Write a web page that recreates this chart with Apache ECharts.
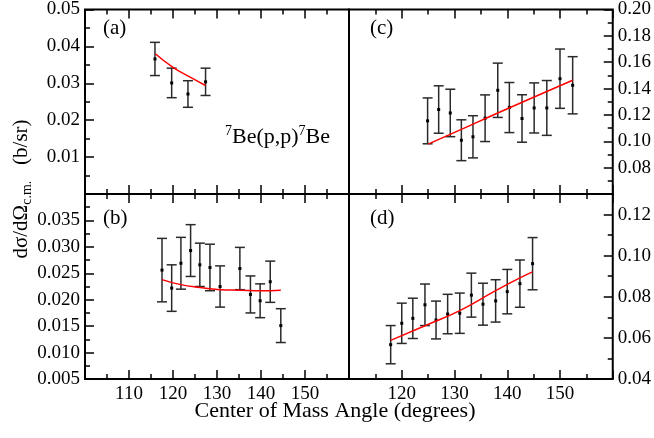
<!DOCTYPE html>
<html><head><meta charset="utf-8">
<script src="https://cdn.jsdelivr.net/npm/echarts@6/dist/echarts.min.js"></script>
<style>html,body{margin:0;padding:0;background:#fff}#c{width:654px;height:438px}</style>
</head><body><div id="c"></div>
<script>
// Panel (a)
const aX = [115.9, 119.7, 123.4, 127.4];
const aY = [0.0366, 0.0301, 0.0271, 0.0304];
const aErr = [0.0045, 0.0040, 0.0036, 0.0037];
const aFitX = [116, 120, 124, 127.4];
const aFitY = [0.0380, 0.0343, 0.0316, 0.0294];
// Panel (b)
const bX = [117.5, 119.7, 121.8, 124.0, 126.1, 128.4, 130.7, 135.2, 137.6, 139.8, 142.1, 144.5];
const bY = [0.0256, 0.0222, 0.0269, 0.0293, 0.0266, 0.0261, 0.0225, 0.0259, 0.0210, 0.0198, 0.0234, 0.0151];
const bErr = [0.0060, 0.0044, 0.0049, 0.0049, 0.0041, 0.0044, 0.0039, 0.0040, 0.0035, 0.0032, 0.0039, 0.0032];
const bFitX = [117.5, 121.5, 126.1, 130.7, 135.2, 139.8, 144.5];
const bFitY = [0.0238, 0.0229, 0.0223, 0.0219, 0.0218, 0.0217, 0.0218];
// Panel (c)
const cX = [124.9, 127.0, 129.2, 131.3, 133.5, 135.8, 138.2, 140.4, 142.8, 145.1, 147.5, 150.0, 152.4];
const cY = [0.1155, 0.1241, 0.1215, 0.1008, 0.1034, 0.1175, 0.1387, 0.1256, 0.1173, 0.1253, 0.1253, 0.1475, 0.1425];
const cErr = [0.0174, 0.0180, 0.0180, 0.0155, 0.0160, 0.0177, 0.0206, 0.0190, 0.0180, 0.0190, 0.0208, 0.0225, 0.0217];
const cFitX = [125, 131.3, 138.2, 145.1, 152.4];
const cFitY = [0.0978, 0.1090, 0.1215, 0.1336, 0.1463];
// Panel (d)
const dX = [117.9, 120.0, 122.1, 124.4, 126.5, 128.7, 131.0, 133.2, 135.4, 137.8, 140.0, 142.4, 144.8];
const dY = [0.0567, 0.0671, 0.0695, 0.0761, 0.0687, 0.0716, 0.0720, 0.0808, 0.0764, 0.0780, 0.0825, 0.0864, 0.0961];
const dErr = [0.0093, 0.0098, 0.0098, 0.0101, 0.0092, 0.0096, 0.0098, 0.0107, 0.0102, 0.0103, 0.0108, 0.0115, 0.0127];
const dFitX = [117.9, 124.4, 131.0, 137.8, 142.4, 144.8];
const dFitY = [0.0588, 0.0659, 0.0733, 0.0830, 0.0892, 0.0921];

const panelLabels = ['(a)', '(b)', '(c)', '(d)'];
const xTitle = 'Center of Mass Angle (degrees)';

const FONT = '"Liberation Serif", "Times New Roman", Times, "DejaVu Serif", serif';
const chart = echarts.init(document.getElementById('c'), null, {renderer: 'canvas'});

const grids = [
  {left: 85, top: 9, width: 264, height: 185},
  {left: 85, top: 194, width: 264, height: 185},
  {left: 349, top: 9, width: 264, height: 185},
  {left: 349, top: 194, width: 264, height: 185}
];
const xr = [[100,160],[100,160],[110,160],[110,160]];
const yr = [
  {min: 0, max: 0.05, interval: 0.01, dec: 2, hide: [0]},
  {min: 0.005, max: 0.04, interval: 0.005, dec: 3, hide: [0.04]},
  {min: 0.06, max: 0.20, interval: 0.02, dec: 2, hide: [0.06]},
  {min: 0.04, max: 0.13, interval: 0.02, dec: 2, hide: [0.13]}
];

const tickStyle = {show: true, inside: true, length: 9, lineStyle: {color: '#000', width: 1.5}};
const minorStyle = {show: true, splitNumber: 2, length: 5, lineStyle: {color: '#000', width: 1.5}};

const xAxes = [], yAxes = [];
for (let i = 0; i < 4; i++) {
  const showLab = (i === 1 || i === 3);
  xAxes.push({
    gridIndex: i, type: 'value', position: 'bottom', min: xr[i][0], max: xr[i][1], interval: 10,
    axisLine: {show: false}, splitLine: {show: false},
    axisTick: tickStyle, minorTick: minorStyle,
    axisLabel: {show: showLab, margin: 6, color: '#000', fontFamily: FONT, fontSize: 19,
      formatter: v => (v === xr[i][0] || v === xr[i][1]) ? '' : String(v)}
  });
  xAxes.push({
    gridIndex: i, type: 'value', position: 'top', min: xr[i][0], max: xr[i][1], interval: 10,
    axisLine: {show: false}, splitLine: {show: false},
    axisTick: tickStyle, minorTick: minorStyle, axisLabel: {show: false}
  });
  const r = yr[i];
  yAxes.push({
    gridIndex: i, type: 'value', position: i < 2 ? 'left' : 'right',
    min: r.min, max: r.max, interval: r.interval,
    axisLine: {show: false}, splitLine: {show: false},
    axisTick: tickStyle, minorTick: minorStyle,
    axisLabel: {margin: 5, color: '#000', fontFamily: FONT, fontSize: 19,
      formatter: v => r.hide.some(h => Math.abs(h - v) < 1e-9) ? '' : v.toFixed(r.dec)}
  });
}

function errItem(params, api) {
  const x = api.value(0), y = api.value(1), e = api.value(2);
  const hi = api.coord([x, y + e]), lo = api.coord([x, y - e]), c = api.coord([x, y]);
  const hw = 5;
  const st = {stroke: '#2a2a2a', lineWidth: 1.5};
  return {type: 'group', children: [
    {type: 'line', shape: {x1: hi[0], y1: hi[1], x2: lo[0], y2: lo[1]}, style: st},
    {type: 'line', shape: {x1: hi[0] - hw, y1: hi[1], x2: hi[0] + hw, y2: hi[1]}, style: st},
    {type: 'line', shape: {x1: lo[0] - hw, y1: lo[1], x2: lo[0] + hw, y2: lo[1]}, style: st},
    {type: 'rect', shape: {x: c[0] - 1.5, y: c[1] - 1.5, width: 3, height: 3}, style: {fill: '#000'}}
  ]};
}

const sets = [[aX,aY,aErr,aFitX,aFitY],[bX,bY,bErr,bFitX,bFitY],[cX,cY,cErr,cFitX,cFitY],[dX,dY,dErr,dFitX,dFitY]];
const series = [];
sets.forEach((s, i) => {
  series.push({
    type: 'line', xAxisIndex: 2 * i, yAxisIndex: i, smooth: true, showSymbol: false, silent: true,
    lineStyle: {color: '#ff0000', width: 1.5},
    data: s[3].map((x, k) => [x, s[4][k]]), z: 3
  });
  series.push({
    type: 'custom', xAxisIndex: 2 * i, yAxisIndex: i, renderItem: errItem,
    encode: {x: 0, y: 1}, data: s[0].map((x, k) => [x, s[1][k], s[2][k]]), z: 2
  });
});

const labelPos = [[103, 28], [103, 218], [370, 28], [370, 218]];
const graphics = panelLabels.map((t, i) => ({
  type: 'text', x: labelPos[i][0], y: labelPos[i][1],
  style: {text: t, fontFamily: FONT, fontSize: 21, fill: '#000', verticalAlign: 'middle'}
}));
graphics.push({
  type: 'text', x: 335, y: 411,
  style: {text: xTitle, fontFamily: FONT, fontSize: 22, fill: '#000', align: 'center', verticalAlign: 'middle'}
});
graphics.push({
  type: 'text', x: 21, y: 189, rotation: Math.PI / 2,
  style: {
    text: '{m|dσ/dΩ}{s|c.m.}{m|   (b/sr)}', align: 'center', verticalAlign: 'middle',
    rich: {
      m: {fontFamily: FONT, fontSize: 21, fill: '#000', lineHeight: 26},
      s: {fontFamily: FONT, fontSize: 14, fill: '#000', lineHeight: 26, verticalAlign: 'bottom', padding: [11, 0, 0, 0]}
    }
  }
});
graphics.push({
  type: 'text', x: 225, y: 137,
  style: {
    text: '{p|7}{m|Be(p,p)}{p|7}{m|Be}', verticalAlign: 'middle',
    rich: {
      m: {fontFamily: FONT, fontSize: 22, fill: '#000', lineHeight: 26},
      p: {fontFamily: FONT, fontSize: 14, fill: '#000', lineHeight: 26, verticalAlign: 'top', padding: [0, 0, 11, 0]}
    }
  }
});

chart.setOption({
  animation: false,
  grid: grids.map(g => Object.assign({show: true, borderColor: '#000', borderWidth: 2, backgroundColor: 'transparent'}, g)),
  xAxis: xAxes, yAxis: yAxes, series: series, graphic: graphics
});
</script></body></html>
